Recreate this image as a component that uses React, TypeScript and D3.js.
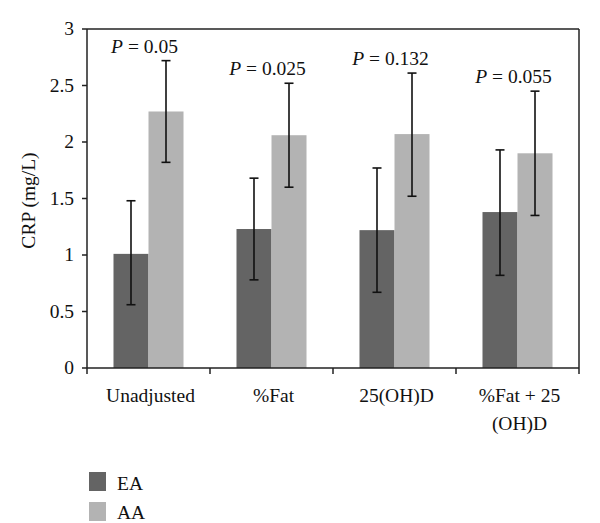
import React from "react";
import * as d3 from "d3";

const categories = ["Unadjusted", "%Fat", "25(OH)D", "%Fat + 25 (OH)D"];
const categoryLines = [["Unadjusted"], ["%Fat"], ["25(OH)D"], ["%Fat + 25", "(OH)D"]];
const series = ["EA", "AA"];
const eaValues = [1.01, 1.23, 1.22, 1.38];
const eaLow = [0.56, 0.78, 0.67, 0.82];
const eaHigh = [1.48, 1.68, 1.77, 1.93];
const aaValues = [2.27, 2.06, 2.07, 1.9];
const aaLow = [1.82, 1.6, 1.52, 1.35];
const aaHigh = [2.72, 2.52, 2.61, 2.45];
const pLabels = ["0.05", "0.025", "0.132", "0.055"];
const yTicks = [0, 0.5, 1, 1.5, 2, 2.5, 3];
const colors = ["#646464", "#b3b3b3"];

const W = 600;
const H = 523;
const left = 87;
const right = 579;
const top = 29;
const bottom = 368;
const FONT = "'Liberation Serif', 'Times New Roman', serif";
const FS = 19.5;

export default function App() {
  const x = d3.scaleBand<string>().domain(categories).range([left, right]).paddingInner(0).paddingOuter(0);
  const x1 = d3.scaleBand<string>().domain(series).range([0, x.bandwidth()]).paddingInner(0).paddingOuter(0.757);
  const y = d3.scaleLinear().domain([0, 3]).range([bottom, top]);

  const data = [
    { vals: eaValues, lo: eaLow, hi: eaHigh },
    { vals: aaValues, lo: aaLow, hi: aaHigh },
  ];
  const boundaries = d3.range(categories.length + 1).map((i) => left + i * x.bandwidth());

  return (
    <svg width={W} height={H} style={{ position: "absolute", left: 0, top: 0, background: "#fff" }} fontFamily={FONT}>
      <rect x={0} y={0} width={W} height={H} fill="#fff" />
      {/* bars */}
      {categories.map((c, ci) =>
        series.map((s, si) => {
          const v = data[si].vals[ci];
          const bx = (x(c) as number) + (x1(s) as number);
          return (
            <rect key={c + s} x={bx} y={y(v)} width={x1.bandwidth()} height={y(0) - y(v)} fill={colors[si]} />
          );
        })
      )}
      {/* frame */}
      <line x1={left} x2={right} y1={top} y2={top} stroke="#222" strokeWidth={1.5} />
      <line x1={right} x2={right} y1={top} y2={bottom} stroke="#222" strokeWidth={1.5} />
      <line x1={left} x2={left} y1={top} y2={bottom} stroke="#222" strokeWidth={1.5} />
      <line x1={left} x2={right} y1={bottom} y2={bottom} stroke="#222" strokeWidth={1.5} />
      {/* error bars */}
      {categories.map((c, ci) =>
        series.map((s, si) => {
          const cx = (x(c) as number) + (x1(s) as number) + x1.bandwidth() / 2;
          const lo = y(data[si].lo[ci]);
          const hi = y(data[si].hi[ci]);
          return (
            <g key={"e" + c + s} stroke="#111" strokeWidth={1.6}>
              <line x1={cx} x2={cx} y1={lo} y2={hi} />
              <line x1={cx - 4.5} x2={cx + 4.5} y1={lo} y2={lo} />
              <line x1={cx - 4.5} x2={cx + 4.5} y1={hi} y2={hi} />
            </g>
          );
        })
      )}
      {/* P labels */}
      {categories.map((c, ci) => (
        <text key={"p" + c} x={(x(c) as number) + x.bandwidth() / 2 - 4} y={y(aaHigh[ci]) - 8} fontSize={FS} textAnchor="middle" fill="#111">
          <tspan fontStyle="italic">P</tspan> = {pLabels[ci]}
        </text>
      ))}
      {/* y ticks */}
      {yTicks.map((t) => (
        <g key={"y" + t}>
          <line x1={left - 5} x2={left} y1={y(t)} y2={y(t)} stroke="#222" strokeWidth={1.5} />
          <text x={left - 13} y={y(t) + 6} fontSize={FS} textAnchor="end" fill="#111">
            {t}
          </text>
        </g>
      ))}
      {/* x ticks */}
      {boundaries.map((b, i) => (
        <line key={"xt" + i} x1={b} x2={b} y1={bottom} y2={bottom + 6} stroke="#222" strokeWidth={1.5} />
      ))}
      {categories.map((c, ci) => (
        <text key={"xl" + c} x={(x(c) as number) + x.bandwidth() / 2 + 2} y={402} fontSize={FS} textAnchor="middle" fill="#111">
          {categoryLines[ci].map((ln, li) => (
            <tspan key={li} x={(x(c) as number) + x.bandwidth() / 2 + 2} dy={li === 0 ? 0 : 28}>
              {ln}
            </tspan>
          ))}
        </text>
      ))}
      {/* y label */}
      <text transform={`translate(35,${(top + bottom) / 2 + 2}) rotate(-90)`} fontSize={FS} textAnchor="middle" fill="#111">
        CRP (mg/L)
      </text>
      {/* legend */}
      {series.map((s, si) => (
        <g key={"lg" + s}>
          <rect x={89} y={472 + si * 30} width={17} height={19} fill={colors[si]} />
          <text x={117} y={490 + si * 29} fontSize={FS} fill="#111">
            {s}
          </text>
        </g>
      ))}
    </svg>
  );
}
